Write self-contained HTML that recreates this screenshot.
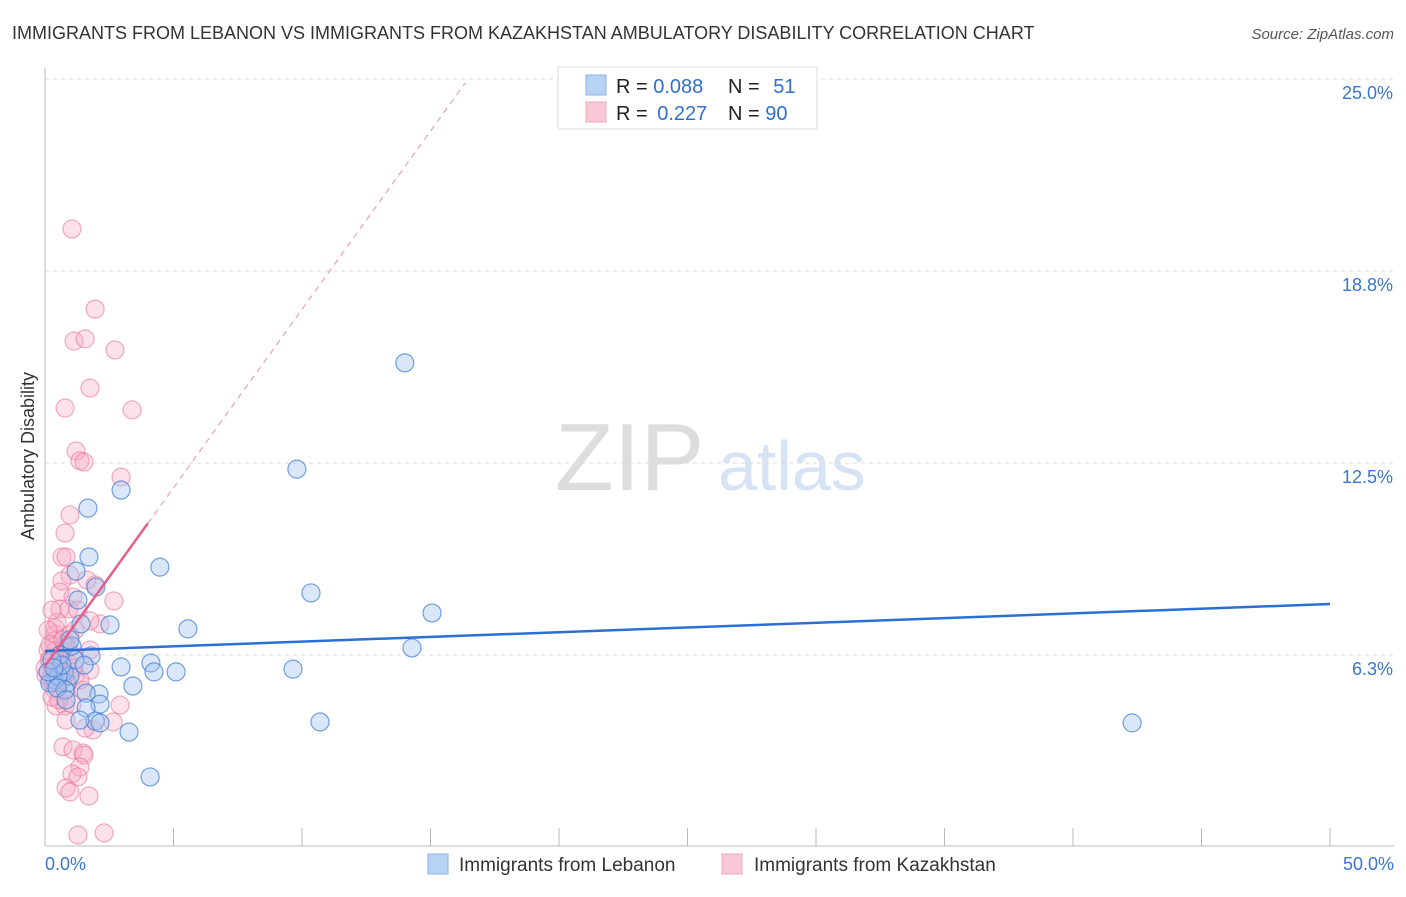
<!DOCTYPE html>
<html><head><meta charset="utf-8">
<style>
body{margin:0;background:#fff;font-family:"Liberation Sans",sans-serif;}
svg text{font-family:"Liberation Sans",sans-serif;}
</style></head>
<body>
<svg id="chart" width="1406" height="892" xmlns="http://www.w3.org/2000/svg">
<text x="12" y="39" font-size="18" fill="#333">IMMIGRANTS FROM LEBANON VS IMMIGRANTS FROM KAZAKHSTAN AMBULATORY DISABILITY CORRELATION CHART</text>
<text x="1394" y="39" font-size="15" fill="#555" text-anchor="end" font-style="italic">Source: ZipAtlas.com</text>
<g>
<text x="555" y="490" font-size="96" fill="#ddd" font-family="Liberation Serif,serif">ZIP</text>
<text x="718" y="490" font-size="70" fill="#d5e3f5">atlas</text>
</g>
<g id="grid"></g>
<g id="axes"></g>
<g id="marks"></g>
<g>
<rect x="558" y="67" width="259" height="62" fill="#fff" stroke="#ddd"/>
<rect x="586" y="75" width="20" height="20" fill="#b7d2f5" stroke="#8fb3e6"/>
<rect x="586" y="102" width="20" height="20" fill="#f9c8d6" stroke="#f0a8bd"/>
<text x="616" y="93" font-size="20" fill="#222">R = <tspan fill="#2f6fcf">0.088</tspan></text>
<text x="728" y="93" font-size="20" fill="#222">N = <tspan fill="#2f6fcf" dx="8">51</tspan></text>
<text x="616" y="120" font-size="20" fill="#222">R = <tspan fill="#2f6fcf" dx="4">0.227</tspan></text>
<text x="728" y="120" font-size="20" fill="#222">N = <tspan fill="#2f6fcf">90</tspan></text>
</g>
<text transform="translate(34,456) rotate(-90)" font-size="18" fill="#333" text-anchor="middle">Ambulatory Disability</text>
<g>
<rect x="428" y="854" width="20" height="20" fill="#b7d2f5" stroke="#8fb3e6"/>
<text x="459" y="871" font-size="19" fill="#333">Immigrants from Lebanon</text>
<rect x="722" y="854" width="20" height="20" fill="#f9c8d6" stroke="#f0a8bd"/>
<text x="754" y="871" font-size="19" fill="#333">Immigrants from Kazakhstan</text>
</g>
</svg>
<script>
const yTicks=[6.25,12.5,18.75,25];
const yTickLabels=["6.3%","12.5%","18.8%","25.0%"];
const xTicks=[0,5,10,15,20,25,30,35,40,45,50];
const blueX=[14.0,9.8,2.96,1.67,4.47,1.71,1.21,1.98,10.35,15.06,2.53,1.40,5.56,1.79,14.28,4.12,2.96,4.24,5.10,9.65,3.42,2.10,1.60,2.14,1.60,1.95,2.14,10.70,3.27,4.09,42.3,0.86,0.39,0.74,0.97,0.19,0.51,1.17,0.58,1.05,0.78,1.36,0.66,0.12,0.47,0.27,0.97,1.28,0.82,0.35,1.52];
const blueY=[15.76,12.30,11.62,11.03,9.11,9.44,8.98,8.46,8.27,7.62,7.23,7.26,7.10,6.22,6.48,5.99,5.86,5.70,5.70,5.79,5.24,4.98,5.01,4.65,4.52,4.10,4.04,4.07,3.74,2.28,4.04,5.34,5.44,5.70,5.57,5.34,5.57,6.09,6.25,6.54,5.11,4.13,5.92,5.70,5.18,6.09,6.74,8.04,4.79,5.83,5.92];
const pinkX=[1.05,1.95,1.13,1.56,2.72,0.78,1.75,3.39,1.21,1.36,1.52,2.96,0.97,0.78,0.66,0.82,0.97,1.63,0.66,1.09,2.68,0.58,0.93,2.14,1.28,0.39,1.75,0.39,0.35,0.97,0.78,0.39,0.58,0.19,0.51,0.78,1.17,0.58,0.19,0.39,1.48,1.75,0.43,0.78,1.05,2.92,2.65,1.87,0.70,1.09,1.48,1.52,1.36,1.05,1.28,0.82,0.97,1.71,1.28,2.30,0.12,0.27,0.47,0.66,0.89,0.04,0.31,0.58,0.82,1.13,0.19,0.70,0.47,0.12,1.05,1.36,0.27,0.54,1.56,0.82,0.27,0.58,1.95,0.16,0.39,0.62,0.0,0.89,1.17,1.75];
const pinkY=[20.12,17.51,16.47,16.54,16.18,14.29,14.94,14.23,12.89,12.57,12.53,12.04,10.81,10.22,9.44,9.44,8.85,8.69,8.66,8.14,8.01,7.75,7.75,7.26,7.71,7.13,7.36,6.93,6.71,6.90,6.58,6.38,6.09,6.09,5.83,5.60,5.57,5.31,5.44,5.11,5.11,5.76,4.59,4.59,4.65,4.62,4.07,3.81,3.26,3.16,3.06,2.99,2.60,2.38,2.28,1.92,1.79,1.66,0.39,0.46,6.41,5.76,5.92,6.25,5.99,5.60,5.37,5.70,5.11,5.83,6.58,6.74,7.32,7.06,6.25,5.44,4.88,4.79,3.87,4.13,7.71,8.30,8.53,6.09,5.60,5.44,5.83,6.48,7.06,6.41];
const blueTrend=[6.38,7.91];
const pinkTrend={intercept:5.89,slope:1.161,solidEnd:4.0,dashEnd:16.35};

const NS="http://www.w3.org/2000/svg";
const X=v=>45+v*25.7;
const Y=v=>847-v*30.72;
function mk(tag,attrs,parent){const e=document.createElementNS(NS,tag);for(const k in attrs)e.setAttribute(k,attrs[k]);parent.appendChild(e);return e;}
const grid=document.getElementById('grid'),axes=document.getElementById('axes'),marks=document.getElementById('marks');
yTicks.forEach((t,i)=>{
  const l=mk('line',{x1:45,x2:1394,y1:Y(t),y2:Y(t),stroke:'#ddd','stroke-dasharray':'4,4'},grid);
  
  
  const tx=mk('text',{x:1393,y:Y(t)+20,'font-size':18,fill:'#3a76d0','text-anchor':'end'},axes);
  tx.textContent=yTickLabels[i];
  
  
});
const ya=mk('line',{x1:45,x2:45,y1:68,y2:846,stroke:'#bbb'},axes);


const xa=mk('line',{x1:45,x2:1394,y1:846,y2:846,stroke:'#bbb'},axes);


xTicks.forEach(t=>{
  const l=mk('line',{x1:X(t),x2:X(t),y1:828,y2:846,stroke:'#bbb'},axes);
  
  
});
const xl0=mk('text',{x:45,y:870,'font-size':18,fill:'#3a76d0'},axes);xl0.textContent='0.0%';


const xl1=mk('text',{x:1394,y:870,'font-size':18,fill:'#3a76d0','text-anchor':'end'},axes);xl1.textContent='50.0%';



pinkX.forEach((x,i)=>{
  const c=mk('circle',{cx:X(x),cy:Y(pinkY[i]),r:9,fill:'rgba(246,170,195,0.35)',stroke:'rgba(232,120,155,0.6)','stroke-width':1.2},marks);
  
  
});
blueX.forEach((x,i)=>{
  const c=mk('circle',{cx:X(x),cy:Y(blueY[i]),r:9,fill:'rgba(160,196,240,0.4)',stroke:'rgba(70,130,215,0.75)','stroke-width':1.2},marks);
  
  
});
const bt=mk('line',{x1:X(0),y1:Y(blueTrend[0]),x2:X(50),y2:Y(blueTrend[1]),stroke:'#2b6fd4','stroke-width':2.5},marks);


const pf=v=>pinkTrend.intercept+pinkTrend.slope*v;
const pd=mk('line',{x1:X(pinkTrend.solidEnd),y1:Y(pf(pinkTrend.solidEnd)),x2:X(pinkTrend.dashEnd),y2:Y(pf(pinkTrend.dashEnd)),stroke:'#e8a0b8','stroke-width':1.2,'stroke-dasharray':'6,5'},marks);


const ps=mk('line',{x1:X(0),y1:Y(pf(0)),x2:X(pinkTrend.solidEnd),y2:Y(pf(pinkTrend.solidEnd)),stroke:'#e55f8c','stroke-width':2.5},marks);


</script>
</body></html>
